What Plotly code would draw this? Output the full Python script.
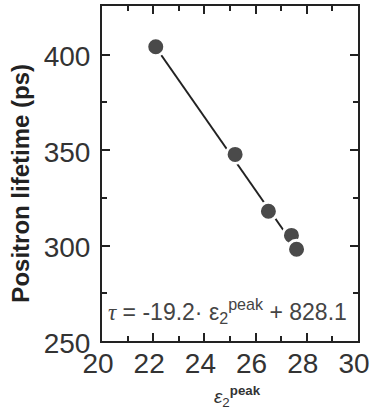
import plotly.graph_objects as go

eps_peak = [22.1, 25.2, 26.5, 27.4, 27.6]
lifetime = [404.1, 347.7, 317.9, 305.3, 298.0]
fit_slope = -19.2
fit_intercept = 828.1
fit_x = [22.1, 27.6]
fit_y = [fit_slope * x + fit_intercept for x in fit_x]

x_ticks = [20, 22, 24, 26, 28, 30]
y_ticks = [250, 300, 350, 400]

fig = go.Figure()
fig.add_trace(go.Scatter(x=fit_x, y=fit_y, mode="lines",
                         line=dict(color="#222222", width=2), showlegend=False))
fig.add_trace(go.Scatter(x=eps_peak, y=lifetime, mode="markers",
                         marker=dict(size=18, color="#4a4a4a", line=dict(color="white", width=3)),
                         showlegend=False))

axis_common = dict(showline=True, linewidth=2, linecolor="#222222", mirror="allticks",
                   ticks="inside", ticklen=8, tickwidth=2, tickcolor="#222222",
                   showgrid=False, zeroline=False, ticklabeloverflow="allow", automargin=False,
                   tickfont=dict(family="Liberation Sans, Arial", size=28, color="#333333"))

fig.update_xaxes(range=[20, 30], tickvals=x_ticks, ticktext=[str(v) for v in x_ticks],
                 minor=dict(ticks="inside", ticklen=5, tickwidth=2, tickcolor="#222222", dtick=1),
                 ticklabelstandoff=-4, ticklabelshift=-4, **axis_common)
fig.update_yaxes(range=[250, 425.4], tickvals=y_ticks, ticktext=[str(v) for v in y_ticks],
                 minor=dict(ticks="inside", ticklen=5, tickwidth=2, tickcolor="#222222", dtick=25, tick0=250),
                 ticklabelstandoff=4, ticklabelshift=2, **axis_common)

fig.add_annotation(text="<b>Positron lifetime (ps)</b>", xref="paper", yref="paper",
                   x=-0.32, y=0.47, textangle=-90, showarrow=False,
                   font=dict(family="Liberation Sans, Arial", size=24, color="#222222"),
                   xanchor="center", yanchor="middle")
fig.add_annotation(text="<i>ε</i><sub>2</sub><sup><b>peak</b></sup>", xref="paper", yref="paper",
                   x=0.53, y=-0.118, showarrow=False,
                   font=dict(family="Liberation Sans, Arial", size=19, color="#333333"),
                   xanchor="center", yanchor="top")
fig.add_annotation(text="<span style=\"font-family:'Liberation Serif', 'Times New Roman', serif\"><i>τ</i></span> = -19.2· ε<sub>2</sub><sup>peak</sup> + 828.1",
                   xref="paper", yref="paper", x=0.965, y=0.09, showarrow=False,
                   font=dict(family="Liberation Sans, Arial", size=23, color="#444444"),
                   xanchor="right", yanchor="middle")

fig.update_layout(width=371, height=411, margin=dict(l=102, r=13, t=6, b=70),
                  plot_bgcolor="white", paper_bgcolor="white")
fig.write_html("out.html")
